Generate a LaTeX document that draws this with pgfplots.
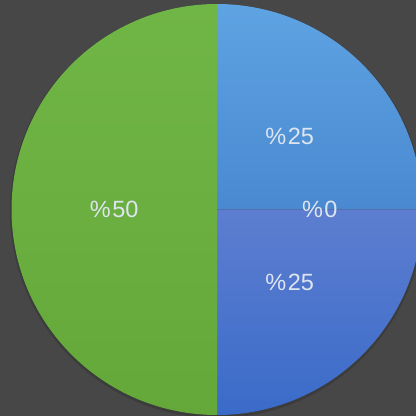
\documentclass[border=0pt]{standalone}
\usepackage{fontspec}
\setmainfont{Liberation Sans}
\usepackage{pgfplots}
\usepackage{pgfplotstable}
\pgfplotsset{compat=1.18}

\definecolor{bgdark}{HTML}{474747}
\definecolor{labeltext}{HTML}{DDE5EE}

% slice shares in percent, clockwise from 12 o'clock
\pgfplotstableread{
share topcol bottomcol
25 5EA3E2 4A89D1
0  5B9BDD 4C8AD2
25 5D7ED0 3A6BC9
50 70B646 64A83A
}\piedata

\begin{document}
\begin{tikzpicture}
\clip (0,0) rectangle (416bp,416bp);
\fill[bgdark] (0,0) rectangle (416bp,416bp);
\begin{axis}[
    at={(0,0)}, anchor=south west,
    scale only axis,
    width=416bp, height=416bp,
    xmin=-217, xmax=199,
    ymin=-206.5, ymax=209.5,
    hide axis,
    clip=false,
]
    % soft shadow round the pie
    \fill[black, opacity=0.15] (axis cs:0,-1.5) circle [radius=207];
    \pgfplotstablegetrowsof{\piedata}
    \pgfmathtruncatemacro\lastrow{\pgfplotsretval-1}
    % slices
    \xdef\angstart{90}
    \pgfplotsforeachungrouped \i in {0,...,\lastrow}{
        \pgfplotstablegetelem{\i}{share}\of\piedata \let\v\pgfplotsretval
        \pgfplotstablegetelem{\i}{topcol}\of\piedata \let\tc\pgfplotsretval
        \pgfplotstablegetelem{\i}{bottomcol}\of\piedata \let\bc\pgfplotsretval
        \definecolor{top\i}{HTML}{\tc}
        \definecolor{bot\i}{HTML}{\bc}
        \pgfmathsetmacro\angend{\angstart-3.6*\v}
        \pgfmathsetmacro\xs{205.5*cos(\angstart)}
        \pgfmathsetmacro\ys{205.5*sin(\angstart)}
        \edef\temp{
            \noexpand\shade[top color=top\i, bottom color=bot\i]
                (axis cs:0,0) -- (axis cs:\xs,\ys)
                arc[start angle=\angstart, end angle=\angend, radius=205.5] -- cycle;
        }
        \ifdim\v pt>0pt \temp\fi
        \xdef\angstart{\angend}
    }
    % labels on top of all slices
    \xdef\angstart{90}
    \pgfplotsforeachungrouped \i in {0,...,\lastrow}{
        \pgfplotstablegetelem{\i}{share}\of\piedata \let\v\pgfplotsretval
        \pgfmathsetmacro\angend{\angstart-3.6*\v}
        \pgfmathsetmacro\angmid{(\angstart+\angend)/2}
        \pgfmathsetmacro\xl{102.75*cos(\angmid)}
        \pgfmathsetmacro\yl{102.75*sin(\angmid)}
        \pgfmathtruncatemacro\vv{\v}
        \edef\temp{
            \noexpand\node[text=labeltext, font=\noexpand\fontsize{23.5bp}{28bp}\noexpand\selectfont]
                at (axis cs:\xl,\yl) {\noexpand\%\noexpand\kern1.5bp\vv};
        }
        \temp
        \xdef\angstart{\angend}
    }
\end{axis}
\end{tikzpicture}
\end{document}
